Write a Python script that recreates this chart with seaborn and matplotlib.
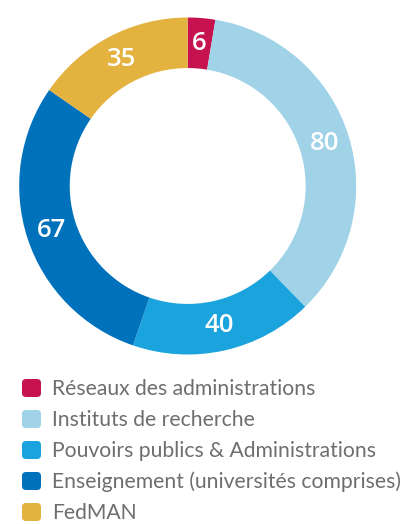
import matplotlib
matplotlib.use("Agg")
import matplotlib.pyplot as plt
from matplotlib.patches import FancyBboxPatch
import seaborn as sns

categories = ["Réseaux des administrations", "Instituts de recherche",
              "Pouvoirs publics & Administrations",
              "Enseignement (universités comprises)", "FedMAN"]
values = [6, 80, 40, 67, 35]
colors = ["#C6124F", "#A0D2E8", "#1AA3DC", "#0071BB", "#E3B23F"]

sns.set_theme(style="white")
sns.set_palette(colors)

W, H = 414, 524
fig = plt.figure(figsize=(W / 100, H / 100), dpi=100)
fig.patch.set_facecolor("white")

cx, cy, R = 187.7, 186.0, 168.5
ax = fig.add_axes([(cx - R) / W, (H - cy - R) / H, 2 * R / W, 2 * R / H])
total = sum(values)
wedges, texts, autotexts = ax.pie(
    values, colors=sns.color_palette(colors), startangle=90, counterclock=False,
    radius=1.0, wedgeprops=dict(width=0.30, edgecolor="none", linewidth=0),
    autopct=lambda p: f"{round(p * total / 100):d}", pctdistance=0.85,
    textprops=dict(color="white", fontsize=18.5, fontweight="semibold",
                   family=["Open Sans", "DejaVu Sans"]))
ax.set_xlim(-1, 1)
ax.set_ylim(-1, 1)
ax.axis("off")

# legend drawn in pixel coordinates
lg = fig.add_axes([0, 0, 1, 1])
lg.set_xlim(0, W)
lg.set_ylim(H, 0)
lg.axis("off")
lg.patch.set_visible(False)
row_y0, row_dy = 388, 31.0
for i, (lab, col) in enumerate(zip(categories, colors)):
    y = row_y0 + i * row_dy
    lg.add_patch(FancyBboxPatch((23.5, y - 7.5), 16, 15,
                                boxstyle="round,pad=1.5,rounding_size=4",
                                facecolor=col, edgecolor="none"))
    lg.text(52, y + 7, lab, fontsize=15.2, color="#6E6E6E", va="baseline",
            ha="left", family=["Lato", "DejaVu Sans"])

fig.savefig("out.png", dpi=100, facecolor="white")
